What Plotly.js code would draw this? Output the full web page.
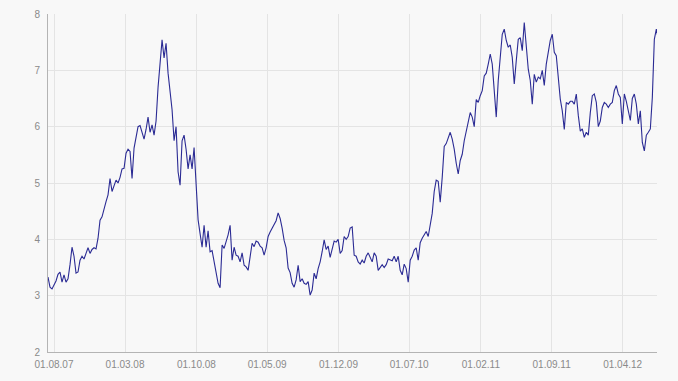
<!DOCTYPE html>
<html>
<head>
<meta charset="utf-8">
<script src="https://cdn.plot.ly/plotly-3.0.1.min.js"></script>
<style>
  html, body { margin: 0; padding: 0; background: #f8f8f8; }
  #chart { width: 678px; height: 381px; }
</style>
</head>
<body>
<div id="chart"></div>
<script>
// Series: one reading every 6 days starting 2007-07-14
const startDate = '2007-07-14';
const stepDays = 6;
const values = [
  3.33,3.15,3.12,3.19,3.26,3.38,3.42,3.24,3.37,3.24,
  3.30,3.55,3.86,3.70,3.40,3.42,3.63,3.70,3.65,3.75,
  3.85,3.75,3.82,3.85,3.83,4.02,4.34,4.40,4.55,4.67,
  4.79,5.08,4.85,4.96,5.05,5.00,5.10,5.25,5.26,5.53,
  5.60,5.56,5.08,5.62,5.85,6.00,6.02,5.90,5.78,5.95,
  6.17,5.90,6.03,5.85,6.10,6.70,7.15,7.54,7.22,7.48,
  6.95,6.60,6.30,5.75,6.00,5.20,4.96,5.75,5.85,5.60,
  5.25,5.50,5.25,5.63,4.88,4.35,4.10,3.86,4.25,3.86,
  4.15,3.78,3.80,3.60,3.45,3.22,3.14,3.90,3.84,3.95,
  4.08,4.25,3.63,3.86,3.72,3.70,3.60,3.76,3.54,3.51,
  3.45,3.69,3.93,3.87,3.97,3.95,3.88,3.85,3.72,3.85,
  4.05,4.13,4.20,4.25,4.33,4.47,4.37,4.20,3.98,3.85,
  3.49,3.41,3.22,3.15,3.28,3.54,3.25,3.30,3.22,3.20,
  3.25,3.01,3.10,3.40,3.30,3.48,3.60,3.78,3.99,3.82,
  3.88,3.68,3.85,3.97,3.95,4.00,3.75,3.80,4.05,4.00,
  4.05,4.20,4.22,3.72,3.70,3.60,3.56,3.63,3.58,3.70,
  3.76,3.68,3.60,3.76,3.70,3.45,3.50,3.55,3.50,3.55,
  3.65,3.64,3.62,3.70,3.60,3.70,3.45,3.37,3.56,3.48,
  3.24,3.63,3.70,3.81,3.85,3.63,3.94,4.02,4.08,4.14,
  4.05,4.29,4.46,4.85,5.05,5.03,4.66,5.10,5.65,5.70,
  5.81,5.90,5.78,5.60,5.35,5.16,5.40,5.51,5.75,5.92,
  6.05,6.25,6.17,6.00,6.48,6.43,6.55,6.64,6.90,6.95,
  7.11,7.29,7.11,6.70,6.17,6.82,7.20,7.64,7.73,7.53,
  7.41,7.45,7.23,6.76,7.17,7.55,7.58,7.35,7.85,7.40,
  7.02,6.82,6.40,6.93,6.79,6.88,6.85,7.00,6.73,7.11,
  7.29,7.53,7.64,7.32,7.26,6.90,6.49,6.28,5.95,6.43,
  6.40,6.45,6.45,6.40,6.58,6.20,5.92,5.96,5.81,5.90,
  5.85,6.25,6.55,6.58,6.43,6.00,6.10,6.34,6.43,6.40,
  6.34,6.40,6.43,6.64,6.73,6.58,6.52,6.05,6.58,6.45,
  6.30,6.11,6.50,6.58,6.40,6.05,6.28,5.72,5.57,5.85,
  5.90,5.96,6.52,7.55,7.73,7.55
];
const tickDates = ['2007-08-01','2008-03-01','2008-10-01','2009-05-01','2009-12-01','2010-07-01','2011-02-01','2011-09-01','2012-04-01'];
const tickLabels = ['01.08.07','01.03.08','01.10.08','01.05.09','01.12.09','01.07.10','01.02.11','01.09.11','01.04.12'];
const yTicks = [2,3,4,5,6,7,8];

const t0 = Date.parse(startDate + 'T00:00:00Z');
const dates = values.map((_, i) => new Date(t0 + i * stepDays * 86400000).toISOString().slice(0, 10));

const trace = {
  x: dates,
  y: values,
  type: 'scatter',
  mode: 'lines',
  line: { color: '#2b2b94', width: 1.1 },
  hoverinfo: 'x+y'
};

const layout = {
  width: 678,
  height: 381,
  margin: { l: 48, r: 21, t: 14, b: 29 },
  paper_bgcolor: '#f8f8f8',
  plot_bgcolor: '#f8f8f8',
  showlegend: false,
  font: { family: 'Liberation Sans, Arial, sans-serif', size: 10, color: '#8a8a8a' },
  xaxis: {
    type: 'date',
    range: ['2007-07-14', '2012-07-13'],
    tickvals: tickDates,
    ticktext: tickLabels,
    showgrid: true,
    gridcolor: '#e4e4e4',
    gridwidth: 1,
    showline: true,
    linecolor: '#b4b4b4',
    linewidth: 1,
    ticks: 'outside',
    ticklen: 3,
    tickcolor: 'rgba(0,0,0,0)',
    zeroline: false,
    tickfont: { size: 10, color: '#8a8a8a' }
  },
  yaxis: {
    range: [2, 8],
    tickvals: yTicks,
    showgrid: true,
    gridcolor: '#e4e4e4',
    gridwidth: 1,
    showline: true,
    linecolor: '#b4b4b4',
    linewidth: 1,
    ticks: 'outside',
    ticklen: 5,
    tickcolor: 'rgba(0,0,0,0)',
    zeroline: false,
    tickfont: { size: 10, color: '#8a8a8a' }
  }
};

Plotly.newPlot('chart', [trace], layout, { displayModeBar: false, staticPlot: true });
</script>
</body>
</html>
